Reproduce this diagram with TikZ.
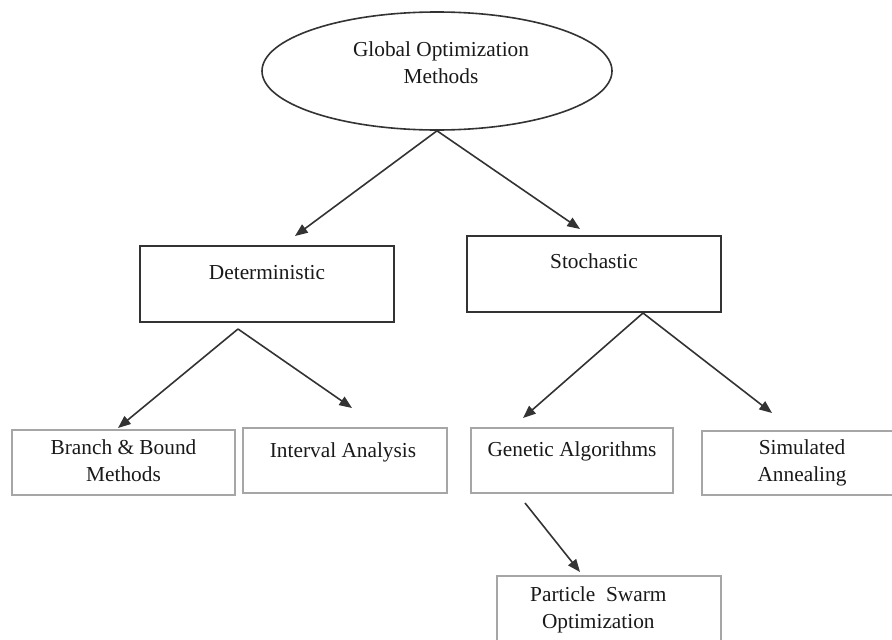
\documentclass[tikz,border=0pt]{standalone}
\usepackage{fontspec}
\setmainfont{Liberation Serif}
\usetikzlibrary{shapes.geometric, arrows.meta}

\begin{document}
\begin{tikzpicture}[
      x = .75pt, y = -.75pt,
      every node/.style = {
        font = \fontsize{16}{20}\selectfont, align = center},
      topnode/.style = {
        ellipse, draw = black!80, line width = 1.2pt,
        minimum width = 262.5pt, minimum height = 88.5pt},
      midbox/.style = {
        rectangle, draw = black!80, line width = 1.3pt,
        minimum width = 190.5pt, minimum height = 57pt},
      leafbox/.style = {
        rectangle, draw = black!35, line width = .9pt,
        minimum height = 48.75pt},
      txt/.style = {inner sep = 0pt, text = black!90},
      arr/.style = {
        -{Triangle[length = 9.5pt, width = 7.5pt]},
        line width = 1.2pt, black!80}
      ]
    \useasboundingbox (0,0) rectangle (892,639);
    \clip (0,0) rectangle (892,639);
    % method tree
    \node[topnode, label = {[txt, xshift = 3pt, yshift = 6.4pt]center:Global Optimization\\Methods}] (glob) at (437,71) {};
    \node[midbox, label = {[txt, yshift = 8.25pt]center:Deterministic}] (det) at (267,284) {};
    \node[midbox, label = {[txt, yshift = 9.75pt]center:Stochastic}] (sto) at (594,274) {};
    \node[leafbox, minimum width = 167.25pt, label = {[txt, yshift = 1.5pt]center:Branch \& Bound\\Methods}] (bb) at (123.5,462.5) {};
    \node[leafbox, minimum width = 153pt, label = {[txt, xshift = -1.5pt, yshift = 6.4pt]center:Interval Analysis}] (ia) at (345,460.5) {};
    \node[leafbox, minimum width = 151.5pt, label = {[txt, yshift = 7.1pt]center:Genetic Algorithms}] (ga) at (572,460.5) {};
    \node[leafbox, minimum width = 150pt, minimum height = 48pt, label = {[txt]center:Simulated\\Annealing}] (sa) at (802,463) {};
    \node[leafbox, minimum width = 168pt, minimum height = 57pt, label = {[txt, xshift = -8pt, yshift = 3pt]center:Particle\ \ Swarm\\Optimization}] (pso) at (609,614) {};
    % arrow ends
    \coordinate (detfork) at (238,329);
    \coordinate (stofork) at (643,313);
    \coordinate (gafoot) at (525,503);
    \coordinate (detend) at (295,236);
    \coordinate (stoend) at (580,229);
    \coordinate (bbend) at (118,428);
    \coordinate (iaend) at (352,408);
    \coordinate (gaend) at (523,418);
    \coordinate (saend) at (772,413);
    \coordinate (psoend) at (580,572);
    \draw[arr] (glob.south) -- (detend);
    \draw[arr] (glob.south) -- (stoend);
    \draw[arr] (detfork) -- (bbend);
    \draw[arr] (detfork) -- (iaend);
    \draw[arr] (stofork) -- (gaend);
    \draw[arr] (stofork) -- (saend);
    \draw[arr] (gafoot) -- (psoend);
  \end{tikzpicture}
\end{document}
